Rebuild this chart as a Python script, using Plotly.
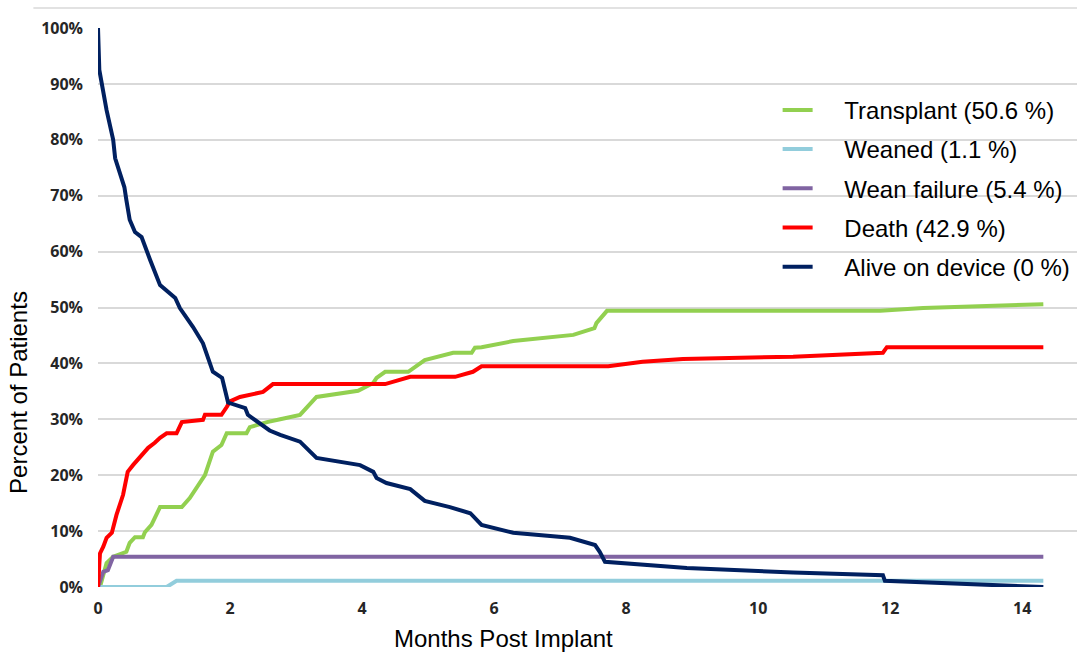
import plotly.graph_objects as go

# Cumulative outcome curves after implant (months, percent of patients)
transplant_months = [0, 0.03, 0.13, 0.23, 0.43, 0.48, 0.56, 0.68, 0.71, 0.81, 0.94, 1.27, 1.39, 1.55,
                     1.62, 1.74, 1.87, 1.95, 2.25, 2.30, 2.56, 2.76, 3.06, 3.31, 3.94, 4.17, 4.22,
                     4.35, 4.70, 4.95, 5.38, 5.66, 5.71, 5.81, 6.29, 7.20, 7.52, 7.55, 7.71, 11.85,
                     12.50, 14.32]
transplant_pct = [0, 0, 4.3, 5.4, 6.3, 7.9, 8.9, 8.9, 9.8, 11.1, 14.3, 14.3, 15.9, 18.8,
                  20.0, 24.2, 25.4, 27.5, 27.5, 28.6, 29.5, 30.0, 30.8, 34.0, 35.1, 36.5, 37.4,
                  38.5, 38.5, 40.6, 41.9, 41.9, 42.8, 42.9, 44.0, 45.1, 46.3, 47.2, 49.4, 49.4,
                  49.9, 50.6]

weaned_months = [0, 1.04, 1.19, 14.32]
weaned_pct = [0, 0, 1.1, 1.1]

wean_fail_months = [0, 0.08, 0.15, 0.18, 0.23, 14.32]
wean_fail_pct = [0, 2.7, 3.0, 3.9, 5.4, 5.4]

death_months = [0, 0.03, 0.08, 0.13, 0.21, 0.28, 0.38, 0.45, 0.53, 0.66, 0.76, 0.86, 0.94, 1.04,
                1.19, 1.27, 1.59, 1.62, 1.87, 1.95, 2.00, 2.15, 2.50, 2.65, 4.35, 4.73, 5.41,
                5.68, 5.81, 7.73, 8.25, 8.86, 10.53, 11.89, 11.95, 14.32]
death_pct = [0, 6.0, 7.2, 8.8, 9.7, 12.9, 16.5, 20.6, 21.8, 23.6, 24.9, 25.8, 26.7, 27.5,
             27.5, 29.5, 29.9, 30.8, 30.8, 32.2, 33.2, 34.0, 34.9, 36.3, 36.3, 37.6, 37.6,
             38.5, 39.5, 39.5, 40.3, 40.8, 41.2, 41.9, 42.9, 42.9]

alive_months = [0, 0.02, 0.13, 0.23, 0.26, 0.40, 0.43, 0.48, 0.56, 0.66, 0.79, 0.94, 1.17, 1.24,
                1.44, 1.59, 1.74, 1.88, 1.97, 2.23, 2.27, 2.60, 2.76, 3.06, 3.31, 3.97, 4.17,
                4.22, 4.37, 4.73, 4.95, 5.33, 5.64, 5.81, 6.29, 7.15, 7.53, 7.60, 7.68, 8.92,
                10.53, 11.89, 11.92, 14.32]
alive_pct = [100, 92.5, 85.3, 80.0, 76.7, 71.5, 69.2, 65.7, 63.5, 62.6, 58.5, 54.0, 51.7, 49.9,
             46.5, 43.6, 38.5, 37.4, 33.0, 32.0, 30.8, 28.0, 27.2, 26.0, 23.1, 21.8, 20.6,
             19.5, 18.6, 17.5, 15.4, 14.3, 13.2, 11.1, 9.7, 8.8, 7.5, 6.3, 4.5, 3.4,
             2.6, 2.1, 1.1, 0]

series_names = ["Transplant (50.6 %)", "Weaned (1.1 %)", "Wean failure (5.4 %)",
                "Death (42.9 %)", "Alive on device (0 %)"]
series_colors = ["#92D050", "#92CDDC", "#8064A2", "#FF0000", "#002060"]

x_ticks = [0, 2, 4, 6, 8, 10, 12, 14]
y_ticks = [0, 10, 20, 30, 40, 50, 60, 70, 80, 90, 100]

series_x = [transplant_months, weaned_months, wean_fail_months, death_months, alive_months]
series_y = [transplant_pct, weaned_pct, wean_fail_pct, death_pct, alive_pct]

fig = go.Figure()
pad = "\u00a0" * 4
for i, (xs, ys, name, color) in enumerate(zip(series_x, series_y, series_names, series_colors)):
    fig.add_trace(go.Scatter(
        x=xs, y=ys, mode="lines", name=pad + name, legendgroup=f"g{i}",
        line=dict(color=color, width=4),
    ))

tick_font = dict(family="Open Sans", size=16, color="#262626", weight="bold")
title_font = dict(family="Liberation Sans, Arial", size=24, color="#000000")

fig.update_layout(
    width=1077, height=655,
    margin=dict(l=98, r=0, t=28, b=68),
    paper_bgcolor="white", plot_bgcolor="white",
    showlegend=True,
    legend=dict(
        x=0.6942, y=0.893, xanchor="left", yanchor="top",
        font=dict(family="Liberation Sans, Arial", size=24, color="#000000"),
        tracegroupgap=5, bgcolor="rgba(0,0,0,0)",
    ),
    xaxis=dict(
        range=[0, 14.83], tickvals=x_ticks, ticktext=[str(v) for v in x_ticks],
        showgrid=False, zeroline=False, showline=False, ticks="",
        tickfont=tick_font, ticklabelstandoff=10,
    ),
    yaxis=dict(
        range=[0, 100], tickvals=y_ticks, ticktext=[f"{v}%" for v in y_ticks],
        showgrid=True, gridcolor="#D9D9D9", gridwidth=1.5, zeroline=False, showline=False,
        ticks="", tickfont=tick_font, ticklabelstandoff=14,
    ),
    annotations=[
        dict(text="Percent of Patients", xref="paper", yref="paper",
             x=-0.0807, y=0.349, textangle=-90, showarrow=False,
             xanchor="center", yanchor="middle", font=title_font),
        dict(text="Months Post Implant", xref="paper", yref="paper",
             x=0.4137, y=-0.093, showarrow=False,
             xanchor="center", yanchor="middle", font=title_font),
    ],
    shapes=[
        dict(type="line", xref="paper", yref="paper", x0=-0.066, x1=1, y0=1.0358, y1=1.0358,
             line=dict(color="#D9D9D9", width=1.5)),
    ],
)

fig.write_html("out.html")
